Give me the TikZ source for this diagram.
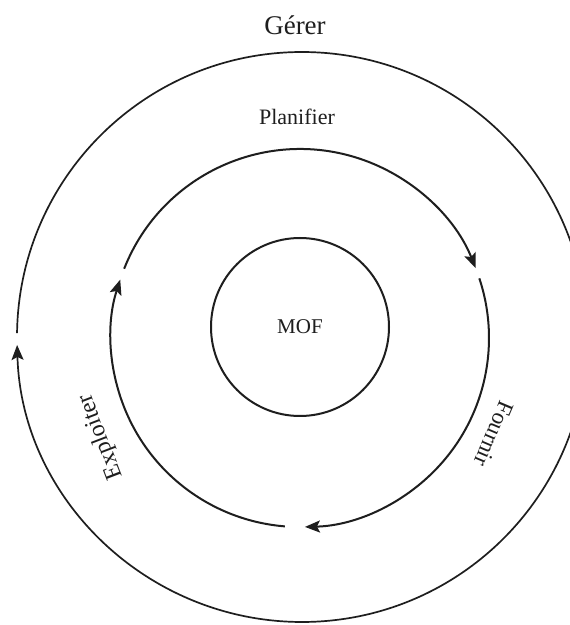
\documentclass[tikz,border=0pt]{standalone}
\usepackage{fontspec}
\setmainfont{Liberation Serif}
\usetikzlibrary{arrows.meta}
\definecolor{ink}{HTML}{1E1E1E}
\tikzset{
  ring/.style={draw=ink, line width=2pt},
  flow/.style={draw=ink, line width=2pt, -{Stealth[length=15pt,width=12pt,inset=3pt]}},
  outerflow/.style={draw=ink, line width=1.7pt, -{Stealth[length=15pt,width=12pt,inset=3pt]}},
  lbl/.style={text=ink, inner sep=0pt},
}
\begin{document}
\begin{tikzpicture}[x=1pt,y=1pt]
  \fill[white] (0,0) rectangle (570,625);
  \useasboundingbox (0,0) rectangle (570,625);
  % centres
  \coordinate (co) at (302,288);
  \coordinate (cm) at (300,287);
  % outer ring (cropped at the right edge)
  \begin{scope}
    \clip (0,0) rectangle (570,625);
    \draw[outerflow] ([shift={(179.2:285)}]co) arc[start angle=179.2, end angle=-178.4, radius=285];
  \end{scope}
  % middle ring: three arcs
  \draw[flow] ([shift={(158.5:189)}]cm) arc[start angle=158.5, end angle=21.7, radius=189];
  \draw[flow] ([shift={(18.4:189)}]cm) arc[start angle=18.4, end angle=-88.5, radius=189];
  \draw[flow] ([shift={(-94.6:189)}]cm) arc[start angle=-94.6, end angle=-198, radius=189];
  % inner circle
  \node[ring, circle, minimum size=178pt, inner sep=0pt, text=ink,
        font=\fontsize{21}{24}\selectfont] (mof) at (300,298) {MOF};
  % labels
  \node[lbl, font=\fontsize{27}{30}\selectfont] (gerer) at (295,600) {Gérer};
  \node[lbl, font=\fontsize{22}{26}\selectfont] (planifier) at (297,508) {Planifier};
  \node[lbl, font=\fontsize{24}{28}\selectfont, rotate=111] (exploiter) at (101,188) {Exploiter};
  \node[lbl, font=\fontsize{23}{26}\selectfont, rotate=-113] (fournir) at (494,191) {Fournir};
\end{tikzpicture}
\end{document}
